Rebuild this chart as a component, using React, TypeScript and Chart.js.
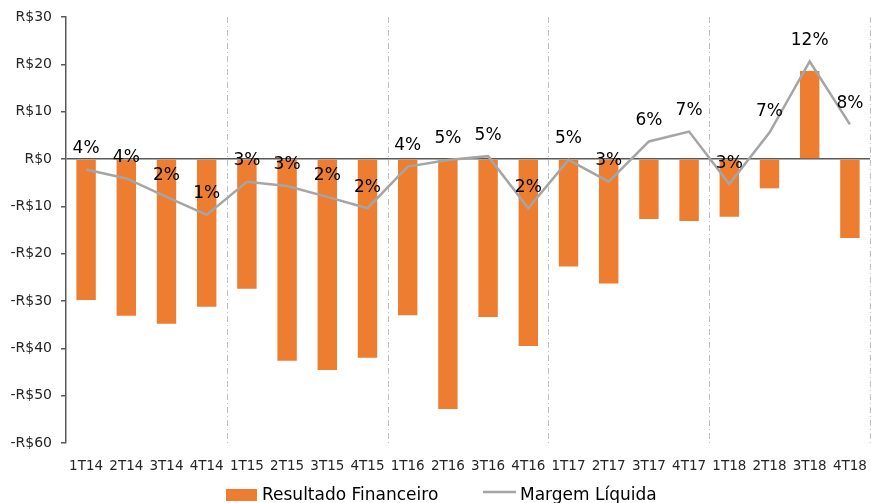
import React, { useEffect, useRef } from "react";
import { Chart, registerables } from "chart.js";

Chart.register(...registerables);

const categories = ["1T14","2T14","3T14","4T14","1T15","2T15","3T15","4T15","1T16","2T16","3T16","4T16","1T17","2T17","3T17","4T17","1T18","2T18","3T18","4T18"];
const resultadoFinanceiro = [-29.8,-33.1,-34.8,-31.2,-27.4,-42.6,-44.6,-42.0,-33.0,-52.8,-33.4,-39.5,-22.7,-26.3,-12.7,-13.1,-12.2,-6.2,18.6,-16.7];
const margemLinha = [-2.2,-4.1,-8.0,-11.8,-4.8,-5.7,-8.0,-10.4,-1.6,-0.2,0.6,-10.4,-0.2,-4.8,3.7,5.8,-5.3,5.6,20.6,7.3];
const margemLabels = ["4%","4%","2%","1%","3%","3%","2%","2%","4%","5%","5%","2%","5%","3%","6%","7%","3%","7%","12%","8%"];
const yTicks = [-60,-50,-40,-30,-20,-10,0,10,20,30];
const yearBoundaries = [3, 7, 11, 15, 19];

const FONT = "'DejaVu Sans', sans-serif";
const ORANGE = "#ED7D31";
const GRAY = "#A5A5A5";

const fmt = (v: number) => (v < 0 ? "-R$" + Math.abs(v) : "R$" + v);

const decorPlugin = {
  id: "decor",
  beforeDatasetsDraw(chart: any) {
    const { ctx, chartArea, scales } = chart;
    const x = scales.x;
    ctx.save();
    ctx.strokeStyle = "#BFBFBF";
    ctx.lineWidth = 1;
    ctx.setLineDash([6, 3, 1, 3]);
    for (const i of yearBoundaries) {
      let px: number;
      if (i + 1 < categories.length) {
        px = (x.getPixelForValue(i) + x.getPixelForValue(i + 1)) / 2;
      } else {
        px = chartArea.right;
      }
      px = Math.round(px) + 0.5;
      ctx.beginPath();
      ctx.moveTo(px, chartArea.top);
      ctx.lineTo(px, chartArea.bottom);
      ctx.stroke();
    }
    ctx.restore();
  },
  afterDatasetsDraw(chart: any) {
    const { ctx } = chart;
    const meta = chart.getDatasetMeta(1);
    ctx.save();
    ctx.font = "17px " + FONT;
    ctx.fillStyle = "#000000";
    ctx.textAlign = "center";
    ctx.textBaseline = "middle";
    meta.data.forEach((pt: any, i: number) => {
      ctx.fillText(margemLabels[i], pt.x, pt.y - 21);
    });
    ctx.restore();
  },
  afterDraw(chart: any) {
    const { ctx } = chart;
    const ds = chart.data.datasets;
    ctx.save();
    ctx.font = "17px " + FONT;
    ctx.textAlign = "left";
    ctx.textBaseline = "middle";
    ctx.fillStyle = ORANGE;
    ctx.fillRect(226, 489, 31, 12);
    ctx.fillStyle = "#000000";
    ctx.fillText(ds[0].label, 262, 496);
    ctx.strokeStyle = GRAY;
    ctx.lineWidth = 2.5;
    ctx.beginPath();
    ctx.moveTo(483, 492);
    ctx.lineTo(516, 492);
    ctx.stroke();
    ctx.fillText(ds[1].label, 520, 496);
    ctx.restore();
  },
};

export default function App() {
  const ref = useRef<HTMLCanvasElement>(null);
  useEffect(() => {
    if (!ref.current) return;
    const chart = new Chart(ref.current, {
      type: "bar",
      data: {
        labels: categories,
        datasets: [
          {
            type: "bar",
            label: "Resultado Financeiro",
            data: resultadoFinanceiro,
            backgroundColor: ORANGE,
            barPercentage: 0.483,
            categoryPercentage: 1,
            order: 2,
          },
          {
            type: "line",
            label: "Margem Líquida",
            data: margemLinha,
            borderColor: GRAY,
            borderWidth: 2.5,
            pointRadius: 0,
            tension: 0,
            order: 1,
          },
        ],
      } as any,
      options: {
        animation: false,
        responsive: false,
        maintainAspectRatio: false,
        layout: { padding: { top: 17, right: 1, left: 0, bottom: 0 } },
        plugins: {
          legend: { display: false },
          tooltip: { enabled: false },
        },
        scales: {
          x: {
            offset: true,
            grid: { display: false, drawTicks: false },
            border: { display: false },
            ticks: {
              font: { family: FONT, size: 13.5 },
              color: "#262626",
              padding: 15,
              maxRotation: 0,
              autoSkip: false,
            },
            afterFit(scale: any) {
              scale.height = 60;
              scale.paddingLeft = 0;
              scale.paddingRight = 0;
            },
          },
          y: {
            min: -60,
            max: 30,
            afterBuildTicks(scale: any) {
              scale.ticks = yTicks.map((v) => ({ value: v }));
            },
            grid: {
              drawTicks: true,
              tickLength: 5,
              tickColor: "#595959",
              lineWidth: 1.5,
              color: (c: any) => (c.tick && c.tick.value === 0 ? "#595959" : "rgba(0,0,0,0)"),
            },
            border: { color: "#595959", width: 1.5 },
            ticks: {
              font: { family: FONT, size: 14 },
              color: "#262626",
              padding: 9,
              callback: (v: any) => fmt(Number(v)),
            },
            afterFit(scale: any) {
              scale.width = 66;
              scale.paddingTop = 0;
              scale.paddingBottom = 0;
            },
          },
        },
      } as any,
      plugins: [decorPlugin],
    });
    return () => chart.destroy();
  }, []);
  return (
    <div style={{ position: "fixed", left: 0, top: 0, width: 871, height: 503, background: "#fff" }}>
      <canvas ref={ref} width={871} height={503} style={{ display: "block" }} />
    </div>
  );
}
